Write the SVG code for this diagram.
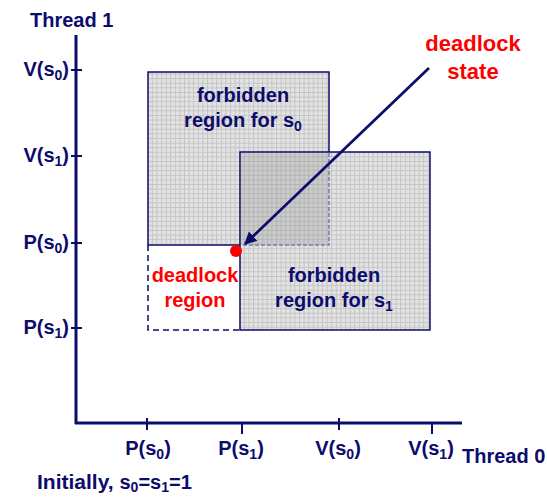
<svg xmlns="http://www.w3.org/2000/svg" width="547" height="497" viewBox="0 0 547 497">
<style>
text{font-family:"Liberation Sans",Arial,sans-serif;font-weight:bold}
.nv{fill:#0c0c6c}
.rd{fill:#ff0000}
.ax{stroke:#0c0c6c;stroke-width:3;fill:none}
.tk{stroke:#0c0c6c;stroke-width:2;fill:none}
.lbl{font-size:20px}
.sub{font-size:14px}
</style>
<defs>
<pattern id="grid" x="0" y="0" width="4.6" height="4.6" patternUnits="userSpaceOnUse">
<rect width="4.6" height="4.6" fill="#e3e3e3"/>
<path d="M0 0.5H4.6M0.5 0V4.6" stroke="#c4c4c4" stroke-width="1"/>
</pattern>
<marker id="ah" viewBox="0 0 10 10" refX="9" refY="5" markerWidth="4.5" markerHeight="4.5" orient="auto">
<path d="M0 0L10 5L0 10z" fill="#0c0c6c"/>
</marker>
</defs>
<rect width="547" height="497" fill="#ffffff"/>

<g id="axes">
<line class="ax" x1="76" y1="35" x2="76" y2="424"/>
<line class="ax" x1="75" y1="423" x2="462" y2="423"/>
<g class="tk">
<line x1="71" y1="70" x2="82" y2="70"/>
<line x1="71" y1="156" x2="82" y2="156"/>
<line x1="71" y1="243" x2="82" y2="243"/>
<line x1="71" y1="328" x2="82" y2="328"/>
<line x1="147" y1="418" x2="147" y2="430"/>
<line x1="242" y1="423" x2="242" y2="434"/>
<line x1="339" y1="418" x2="339" y2="430"/>
<line x1="432" y1="423" x2="432" y2="434"/>
</g>
</g>

<g id="axis-labels" class="nv lbl">
<text x="30" y="27">Thread 1</text>
<text x="462" y="463">Thread 0</text>
<text x="69" y="76" text-anchor="end">V(s<tspan class="sub" dy="4">0</tspan><tspan dy="-4">)</tspan></text>
<text x="69" y="162" text-anchor="end">V(s<tspan class="sub" dy="4">1</tspan><tspan dy="-4">)</tspan></text>
<text x="69" y="249" text-anchor="end">P(s<tspan class="sub" dy="4">0</tspan><tspan dy="-4">)</tspan></text>
<text x="69" y="334" text-anchor="end">P(s<tspan class="sub" dy="4">1</tspan><tspan dy="-4">)</tspan></text>
<text x="148" y="455" text-anchor="middle">P(s<tspan class="sub" dy="4">0</tspan><tspan dy="-4">)</tspan></text>
<text x="241" y="455" text-anchor="middle">P(s<tspan class="sub" dy="4">1</tspan><tspan dy="-4">)</tspan></text>
<text x="338" y="455" text-anchor="middle">V(s<tspan class="sub" dy="4">0</tspan><tspan dy="-4">)</tspan></text>
<text x="431" y="455" text-anchor="middle">V(s<tspan class="sub" dy="4">1</tspan><tspan dy="-4">)</tspan></text>
<text x="37" y="489" style="font-size:21px">Initially, <tspan style="font-size:20px">s</tspan><tspan class="sub" dy="3">0</tspan><tspan dy="-3" style="font-size:20px">=s</tspan><tspan class="sub" dy="3">1</tspan><tspan dy="-3" style="font-size:20px">=1</tspan></text>
</g>

<g id="forbidden-s0">
<rect x="148" y="72" width="181" height="173" fill="url(#grid)" stroke="#0c0c6c" stroke-width="1.5"/>
</g>
<g id="forbidden-s1">
<rect x="240" y="152" width="190" height="178" fill="url(#grid)" stroke="#0c0c6c" stroke-width="1.5"/>
</g>
<g id="overlap">
<rect x="240.8" y="152.8" width="88.2" height="92.2" fill="#8c8c8c" fill-opacity="0.28"/>
<path d="M329 153V245H241" fill="none" stroke="#7a7ab0" stroke-width="1.5" stroke-dasharray="4 2"/>
</g>
<g id="deadlock-region">
<path d="M148 245V330H240" fill="none" stroke="#0c0c6c" stroke-width="1.5" stroke-dasharray="6 4"/>
</g>

<g id="texts">
<text class="nv lbl" x="243" y="102" text-anchor="middle">forbidden</text>
<text class="nv lbl" x="243" y="127" text-anchor="middle">region for s<tspan class="sub" dy="4">0</tspan></text>
<text class="nv lbl" x="334" y="282" text-anchor="middle">forbidden</text>
<text class="nv lbl" x="334" y="307" text-anchor="middle">region for s<tspan class="sub" dy="4">1</tspan></text>
<text class="rd lbl" x="195" y="282" text-anchor="middle">deadlock</text>
<text class="rd lbl" x="195" y="307" text-anchor="middle">region</text>
<text class="rd" x="473" y="51" text-anchor="middle" style="font-size:22px">deadlock</text>
<text class="rd" x="473" y="79" text-anchor="middle" style="font-size:22px">state</text>
</g>

<g id="connectors">
<line x1="429" y1="68" x2="245" y2="244" stroke="#0c0c6c" stroke-width="2.8" marker-end="url(#ah)"/>
</g>
<g id="deadlock-state">
<circle cx="236" cy="251" r="6" fill="#ff0000"/>
</g>
</svg>
